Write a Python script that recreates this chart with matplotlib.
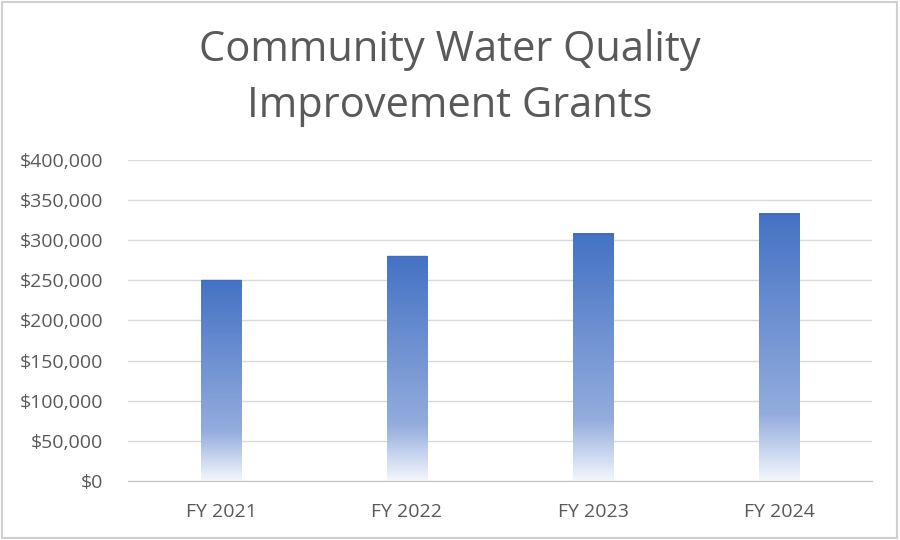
import numpy as np
import matplotlib
matplotlib.use("Agg")
import matplotlib.pyplot as plt
from matplotlib.colors import LinearSegmentedColormap
from matplotlib.patches import Rectangle
from matplotlib.ticker import FuncFormatter

# data
years = ["FY 2021", "FY 2022", "FY 2023", "FY 2024"]
grants = [250000, 280000, 308000, 333000]
y_ticks = [0, 50000, 100000, 150000, 200000, 250000, 300000, 350000, 400000]
title_lines = ["Community Water Quality", "Improvement Grants"]

text_col = "#595959"
grid_col = "#D9D9D9"

plt.rcParams["font.family"] = ["Open Sans", "DejaVu Sans"]

# fade from white at the base to office blue at the top
fade = LinearSegmentedColormap.from_list(
    "fade",
    [(0.0, "#F4F6FC"), (0.12, "#C5D3EE"), (0.25, "#93ACDD"), (1.0, "#4472C4")],
)

fig = plt.figure(figsize=(9, 5.4), dpi=100)
ax = fig.add_axes([0.1422, 0.1093, 0.8267, 0.5944])

bar_w = 0.22
x = np.arange(len(years))
grad = np.linspace(0, 1, 256).reshape(-1, 1)
for xi, v in zip(x, grants):
    ax.imshow(grad, cmap=fade, origin="lower", aspect="auto",
              extent=(xi - bar_w / 2, xi + bar_w / 2, 0, v), zorder=3,
              interpolation="bilinear")
    ax.plot([xi - bar_w / 2, xi + bar_w / 2], [v, v], color="#3F6CC0",
            lw=1, zorder=4, solid_capstyle="butt")

ax.set_xlim(-0.5, len(years) - 0.5)
ax.set_ylim(0, 400000)
ax.set_xticks(x)
ax.set_xticklabels(years)
ax.set_yticks(y_ticks)
ax.yaxis.set_major_formatter(FuncFormatter(lambda v, p: "${:,.0f}".format(v)))
ax.tick_params(axis="both", length=0, labelsize=14, colors=text_col)
ax.tick_params(axis="y", pad=18)
ax.tick_params(axis="x", pad=16)

ax.grid(axis="y", color=grid_col, lw=1, zorder=0)
ax.set_axisbelow(True)
for s in ["top", "right", "left"]:
    ax.spines[s].set_visible(False)
ax.spines["bottom"].set_color("#BFBFBF")
ax.spines["bottom"].set_zorder(5)

# two-line title, each line on its own baseline
for yb, line in zip([0.887, 0.783], title_lines):
    fig.text(0.5, yb, line, ha="center", va="baseline", fontsize=30,
             color=text_col)

# light frame round the chart area
fig.patches.append(Rectangle((0.002, 0.003), 0.995, 0.994, transform=fig.transFigure,
                             fill=False, edgecolor="#D0D0D0", lw=1.5))

fig.savefig("out.png", dpi=100)
